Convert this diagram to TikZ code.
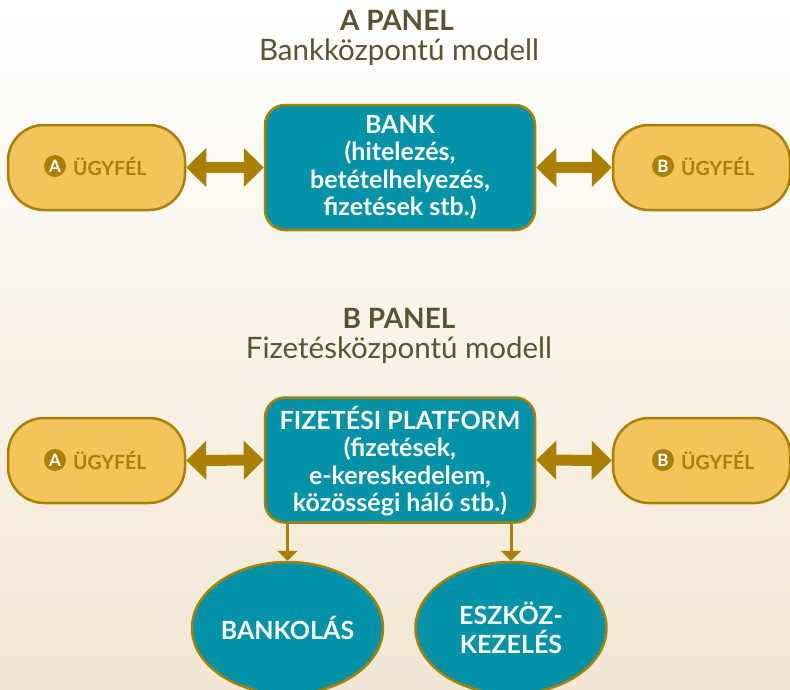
\documentclass[tikz,border=0pt]{standalone}
\usepackage{fontspec}
\setmainfont{Lato}
\usetikzlibrary{shapes.geometric,arrows.meta,positioning}
\definecolor{goldfill}{HTML}{F1C45C}
\definecolor{goldline}{HTML}{A98000}
\definecolor{tealfill}{HTML}{0092A6}
\definecolor{titlecol}{HTML}{5C5330}
\definecolor{bgbot}{HTML}{F3E7D3}
\begin{document}
\begin{tikzpicture}[x=1pt,y=-1pt,
  client/.style={draw=goldline, line width=2.5pt, fill=goldfill, rounded corners=36pt,
     minimum width=177pt, minimum height=85pt, inner sep=0pt},
  centerbox/.style={draw=goldline, line width=2.5pt, fill=tealfill, rounded corners=20pt,
     minimum width=270pt, minimum height=125pt, inner sep=0pt},
  boxtext/.style={text=white, font=\fontsize{25}{27.5}\selectfont\bfseries, align=center, inner sep=0pt},
  oval/.style={ellipse, draw=goldline, line width=2.5pt, fill=tealfill, minimum width=191pt,
     minimum height=132pt, inner sep=0pt, text=white, font=\fontsize{25}{29}\selectfont\bfseries, align=center},
  badge/.style={circle, fill=goldline, text=white, minimum size=22pt, inner sep=0pt,
     font=\fontsize{17}{17}\selectfont\bfseries},
  clientlbl/.style={text=goldline, font=\fontsize{19.5}{19.5}\selectfont\bfseries, inner sep=0pt, anchor=west},
  title/.style={text=titlecol, font=\fontsize{28}{28}\selectfont\bfseries, inner sep=0pt},
  subtitle/.style={text=titlecol, font=\fontsize{29.5}{29.5}\selectfont, inner sep=0pt},
  dbl/.style={goldline, line width=11pt, {Triangle[length=20pt,width=38pt]}-{Triangle[length=20pt,width=38pt]}},
  down/.style={goldline, line width=3pt, -{Triangle[length=10pt,width=20pt]}}]
\useasboundingbox (0,0) rectangle (790,689);
\shade[top color=white, bottom color=bgbot] (0,0) rectangle (790,689);

% Panel A
\node[title] (tA) at (397,20) {A PANEL};
\node[subtitle] (sA) at (399,52) {Bankközpontú modell};
\node[client] (cA1) at (96.5,167.5) {};
\node[badge] (bA1) at (55,166) {A};
\node[clientlbl] (lA1) at (73,166.5) {ÜGYFÉL};
\node[centerbox] (bank) at (400,167.5) {};
\node[boxtext] (bankt) at (400,167.5) {BANK\\(hitelezés,\\betételhelyezés,\\fizetések stb.)};
\node[client] (cB1) at (701.5,167.5) {};
\node[badge] (bB1) at (663,166) {B};
\node[clientlbl] (lB1) at (681,166.5) {ÜGYFÉL};
\draw[dbl] (cA1.east) -- (bank.west);
\draw[dbl] (bank.east) -- (cB1.west);

% Panel B
\node[title] (tB) at (399,318) {B PANEL};
\node[subtitle] (sB) at (399,350) {Fizetésközpontú modell};
\node[client] (cA2) at (96.5,460.5) {};
\node[badge] (bA2) at (55,460) {A};
\node[clientlbl] (lA2) at (73,460.5) {ÜGYFÉL};
\node[centerbox] (plat) at (400,460) {};
\node[boxtext] (platt) at (400,461) {FIZETÉSI PLATFORM\\(fizetések,\\e-kereskedelem,\\közösségi háló stb.)};
\node[client] (cB2) at (701.5,460.5) {};
\node[badge] (bB2) at (663,460) {B};
\node[clientlbl] (lB2) at (681,460.5) {ÜGYFÉL};
\draw[dbl] (cA2.east) -- (plat.west);
\draw[dbl] (plat.east) -- (cB2.west);

\node[oval] (bankol) at (287.5,628) {BANKOLÁS};
\node[oval] (eszk) at (511,628) {ESZKÖZ-\\KEZELÉS};
\coordinate (p1) at (287.5,522.5);
\coordinate (p2) at (511,522.5);
\draw[down] (p1) -- (bankol.north);
\draw[down] (p2) -- (eszk.north);
\end{tikzpicture}
\end{document}
